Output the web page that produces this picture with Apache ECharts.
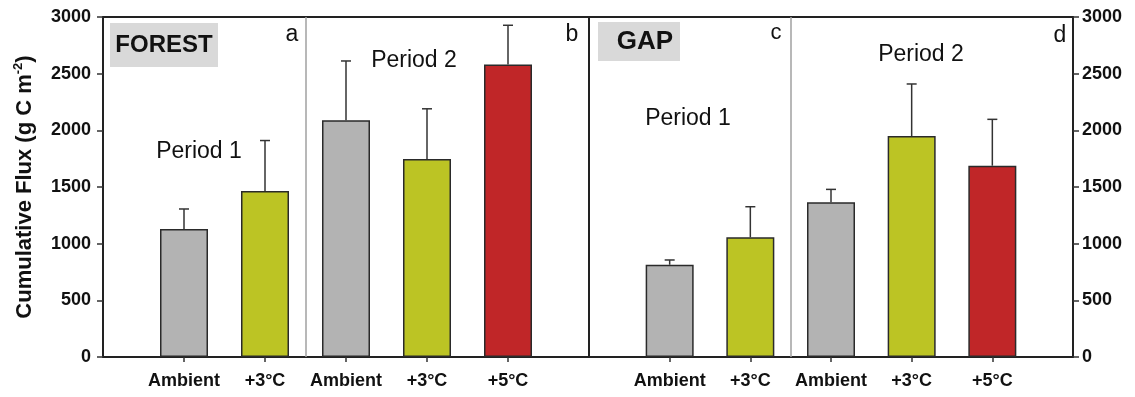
<!DOCTYPE html>
<html>
<head>
<meta charset="utf-8">
<script src="https://cdn.jsdelivr.net/npm/echarts@6/dist/echarts.min.js"></script>
<style>
html,body{margin:0;padding:0;background:#fff;}
#chart{width:1135px;height:397px;}
</style>
</head>
<body>
<div id="chart"></div>
<script>
// ---- data ----
const categories = ['Ambient', '+3°C', 'Ambient', '+3°C', '+5°C'];
const treatments = ['ambient', 'plus3', 'ambient', 'plus3', 'plus5'];
const forestMean = [1130, 1465, 2088, 1747, 2580];
const forestErr  = [176, 445, 524, 443, 347];
const gapMean    = [814, 1056, 1365, 1950, 1688];
const gapErr     = [42, 270, 114, 459, 409];
const yMin = 0, yMax = 3000, yStep = 500;
const panelTitles = ['FOREST', 'GAP'];
const panelLetters = ['a', 'b', 'c', 'd'];
const periodLabels = ['Period 1', 'Period 2'];
const yTitle = 'Cumulative Flux (g C m{sup|-2})';

// ---- styles ----
const FONT = 'Liberation Sans, Arial, sans-serif';
const colors = { ambient: '#b3b3b3', plus3: '#bcc424', plus5: '#c02628' };
const slotIdx = categories.map((c, i) => i + 1);

const chart = echarts.init(document.getElementById('chart'), null, { renderer: 'canvas' });

function xAxisCfg(g) {
  return {
    type: 'value', gridIndex: g, min: 0, max: 6, interval: 1,
    splitLine: { show: false },
    axisLine: { show: true, onZero: false, lineStyle: { color: '#222', width: 2 } },
    axisTick: { show: true, customValues: slotIdx, length: 5, lineStyle: { color: '#333', width: 1.5 } },
    axisLabel: {
      customValues: slotIdx,
      formatter: v => categories[Math.round(v) - 1] || '',
      fontFamily: FONT, fontWeight: 'bold', fontSize: 18, color: '#111', margin: 15
    }
  };
}
function yAxisCfg(g, pos) {
  return {
    type: 'value', gridIndex: g, min: yMin, max: yMax, interval: yStep, position: pos,
    splitLine: { show: false },
    axisLine: { show: true, onZero: false, lineStyle: { color: '#222', width: 2 } },
    axisTick: { show: true, inside: false, length: 6, lineStyle: { color: '#333', width: 1.5 } },
    axisLabel: { formatter: v => String(v), fontFamily: FONT, fontWeight: 'bold', fontSize: 18, color: '#111', margin: pos === 'left' ? 12 : 9 }
  };
}

function barSeries(g, means) {
  return {
    type: 'bar', xAxisIndex: g, yAxisIndex: g, barWidth: 48, silent: true,
    data: means.map((v, i) => ({
      value: [slotIdx[i], v],
      itemStyle: { color: colors[treatments[i]] }
    })),
    itemStyle: { borderColor: '#2a2a2a', borderWidth: 1.5 },
    markLine: {
      silent: true, symbol: ['none', 'none'], label: { show: false },
      lineStyle: { color: '#a0a0a0', width: 1.5, type: 'solid' },
      data: [{ xAxis: 2.5 }]
    },
    z: 2
  };
}
function errSeries(g, means, errs) {
  return {
    type: 'custom', xAxisIndex: g, yAxisIndex: g, silent: true, z: 3,
    encode: { x: 0, y: [1, 2] },
    data: means.map((v, i) => [slotIdx[i], v, v + errs[i]]),
    renderItem: (params, api) => {
      const x = api.value(0);
      const p0 = api.coord([x, api.value(1)]);
      const p1 = api.coord([x, api.value(2)]);
      const st = { stroke: '#333', lineWidth: 1.5, fill: null };
      return { type: 'group', children: [
        { type: 'line', shape: { x1: p0[0], y1: p0[1], x2: p1[0], y2: p1[1] }, style: st },
        { type: 'line', shape: { x1: p1[0] - 5, y1: p1[1], x2: p1[0] + 5, y2: p1[1] }, style: st }
      ]};
    }
  };
}

function txt(x, y, text, size, weight) {
  return { type: 'text', x: x, y: y, z: 10,
    style: { text: text, fontFamily: FONT, fontSize: size, fontWeight: weight || 'normal',
             fill: '#111', align: 'center', verticalAlign: 'middle' } };
}

const option = {
  animation: false,
  backgroundColor: '#fff',
  grid: [
    { left: 103, top: 17, width: 486, height: 340, show: true, borderColor: '#222', borderWidth: 2, backgroundColor: 'transparent' },
    { left: 589, top: 17, width: 484, height: 340, show: true, borderColor: '#222', borderWidth: 2, backgroundColor: 'transparent' }
  ],
  xAxis: [xAxisCfg(0), xAxisCfg(1)],
  yAxis: [yAxisCfg(0, 'left'), yAxisCfg(1, 'right')],
  series: [
    barSeries(0, forestMean), errSeries(0, forestMean, forestErr),
    barSeries(1, gapMean), errSeries(1, gapMean, gapErr)
  ],
  graphic: [
    { type: 'rect', shape: { x: 110, y: 23, width: 108, height: 44 }, style: { fill: '#d9d9d9' }, z: 5 },
    { type: 'rect', shape: { x: 598, y: 22, width: 82, height: 39 }, style: { fill: '#d9d9d9' }, z: 5 },
    txt(164, 45, panelTitles[0], 24, 'bold'),
    txt(645, 42, panelTitles[1], 26, 'bold'),
    txt(292, 35, panelLetters[0], 23),
    txt(572, 35, panelLetters[1], 23),
    txt(776, 33, panelLetters[2], 22),
    txt(1060, 36, panelLetters[3], 23),
    txt(199, 152, periodLabels[0], 23),
    txt(414, 61, periodLabels[1], 23),
    txt(688, 119, periodLabels[0], 23),
    txt(921, 55, periodLabels[1], 23),
    { type: 'text', x: 25, y: 187, rotation: Math.PI / 2, z: 10,
      style: { text: yTitle, fontFamily: FONT, fontSize: 22, fontWeight: 'bold', fill: '#111',
               align: 'center', verticalAlign: 'middle', lineHeight: 26,
               rich: { sup: { fontFamily: FONT, fontSize: 13, fontWeight: 'bold', fill: '#111', lineHeight: 13, verticalAlign: 'top' } } } }
  ]
};
chart.setOption(option);
</script>
</body>
</html>
